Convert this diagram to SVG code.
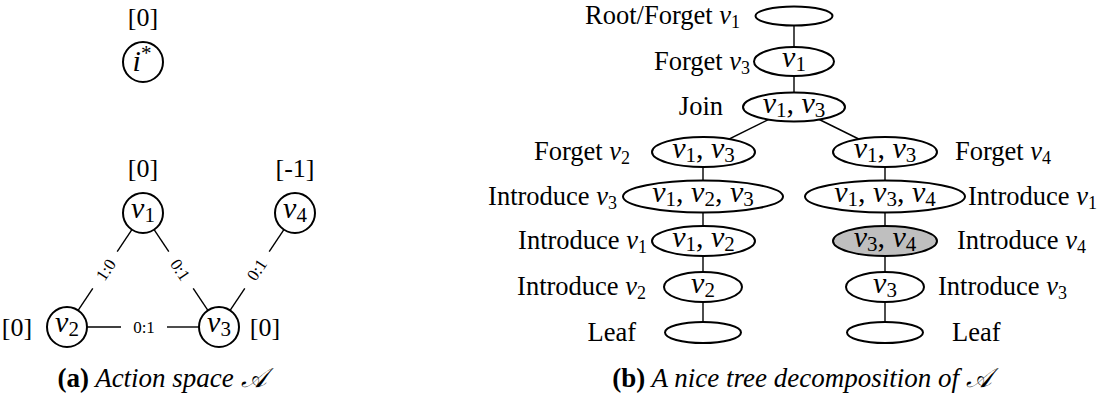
<svg xmlns="http://www.w3.org/2000/svg" width="1106" height="401" viewBox="0 0 1106 401">
<style>
text{font-family:"Liberation Serif","Times New Roman",serif;fill:#000}
.l{font-size:26.5px}
.b{font-size:26px}
.it{font-style:italic}
.s{font-size:18px}
.m{font-size:30px}
.ms{font-size:21px}
.e{font-size:17px}
.cap{font-size:27px}
.nd{fill:#fff;stroke:#000;stroke-width:2}
.gr{fill:#bfbfbf;stroke:#000;stroke-width:2}
.ln{stroke:#000;stroke-width:1.4;fill:none}
</style>
<rect width="1106" height="401" fill="#fff"/>
<g id="connectors">
<line class="ln" x1="131.9" y1="229.6" x2="117.2" y2="251.7"/>
<line class="ln" x1="92.8" y1="288.3" x2="78.1" y2="310.4"/>
<line class="ln" x1="154.1" y1="229.6" x2="168.8" y2="251.7"/>
<line class="ln" x1="193.2" y1="288.3" x2="207.9" y2="310.4"/>
<line class="ln" x1="230.1" y1="310.4" x2="244.8" y2="288.3"/>
<line class="ln" x1="269.2" y1="251.7" x2="283.9" y2="229.6"/>
<line class="ln" x1="87" y1="327" x2="121" y2="327"/>
<line class="ln" x1="167" y1="327" x2="199" y2="327"/>
<text class="e" transform="translate(106,270) rotate(-56.3)" text-anchor="middle" y="5.5">1:0</text>
<text class="e" transform="translate(180,270) rotate(56.3)" text-anchor="middle" y="5.5">0:1</text>
<text class="e" transform="translate(257,270) rotate(-56.3)" text-anchor="middle" y="5.5">0:1</text>
<text class="e" x="144" y="332.5" text-anchor="middle">0:1</text>
<line class="ln" x1="794" y1="16" x2="794" y2="107"/>
<line class="ln" x1="794" y1="107" x2="703" y2="152"/>
<line class="ln" x1="794" y1="107" x2="885" y2="152"/>
<line class="ln" x1="703" y1="152" x2="703" y2="332"/>
<line class="ln" x1="885" y1="152" x2="885" y2="332"/>
</g>
<g id="istar">
<text class="b" x="143" y="26" text-anchor="middle">[0]</text>
<circle class="nd" cx="143" cy="62" r="20"/>
<text class="m it" x="142" y="71" text-anchor="middle">i<tspan class="ms" dy="-11" font-style="normal">*</tspan></text>
</g>
<g id="v1">
<text class="b" x="143" y="177" text-anchor="middle">[0]</text>
<circle class="nd" cx="143" cy="213" r="20"/>
<text class="m" x="143" y="218" text-anchor="middle"><tspan class="it">v</tspan><tspan class="ms" dy="4">1</tspan></text>
</g>
<g id="v4">
<text class="b" x="295" y="177" text-anchor="middle">[-1]</text>
<circle class="nd" cx="295" cy="213" r="20"/>
<text class="m" x="295" y="218" text-anchor="middle"><tspan class="it">v</tspan><tspan class="ms" dy="4">4</tspan></text>
</g>
<g id="v2">
<text class="b" x="17" y="336" text-anchor="middle">[0]</text>
<circle class="nd" cx="67" cy="327" r="20"/>
<text class="m" x="67" y="332" text-anchor="middle"><tspan class="it">v</tspan><tspan class="ms" dy="4">2</tspan></text>
</g>
<g id="v3">
<text class="b" x="265" y="336" text-anchor="middle">[0]</text>
<circle class="nd" cx="219" cy="327" r="20"/>
<text class="m" x="219" y="332" text-anchor="middle"><tspan class="it">v</tspan><tspan class="ms" dy="4">3</tspan></text>
</g>
<text class="cap" x="162" y="387" text-anchor="middle"><tspan font-weight="bold">(a)</tspan><tspan class="it"> Action space 𝒜</tspan></text>
<g id="root">
<ellipse class="nd" cx="794" cy="16" rx="38.5" ry="9.5"/>
<text class="l" x="740" y="24" text-anchor="end">Root/Forget <tspan class="it">v</tspan><tspan class="s" dy="4">1</tspan></text>
</g>
<g id="forget3">
<ellipse class="nd" cx="794" cy="61.5" rx="40" ry="14.5"/>
<text class="m" x="794" y="67" text-anchor="middle"><tspan class="it">v</tspan><tspan class="ms" dy="4">1</tspan></text>
<text class="l" x="750" y="70" text-anchor="end">Forget <tspan class="it">v</tspan><tspan class="s" dy="4">3</tspan></text>
</g>
<g id="join">
<ellipse class="nd" cx="794" cy="107" rx="51" ry="14.5"/>
<text class="m" x="794" y="112.5" text-anchor="middle"><tspan class="it">v</tspan><tspan class="ms" dy="4">1</tspan><tspan dy="-4">, </tspan><tspan class="it">v</tspan><tspan class="ms" dy="4">3</tspan></text>
<text class="l" x="723" y="115" text-anchor="end">Join</text>
</g>
<g id="forget2">
<ellipse class="nd" cx="703.5" cy="152" rx="51.5" ry="15"/>
<text class="m" x="703.5" y="157.5" text-anchor="middle"><tspan class="it">v</tspan><tspan class="ms" dy="4">1</tspan><tspan dy="-4">, </tspan><tspan class="it">v</tspan><tspan class="ms" dy="4">3</tspan></text>
<text class="l" x="630" y="160" text-anchor="end">Forget <tspan class="it">v</tspan><tspan class="s" dy="4">2</tspan></text>
</g>
<g id="intro3">
<ellipse class="nd" cx="703" cy="196.5" rx="80" ry="16"/>
<text class="m" x="703" y="202" text-anchor="middle"><tspan class="it">v</tspan><tspan class="ms" dy="4">1</tspan><tspan dy="-4">, </tspan><tspan class="it">v</tspan><tspan class="ms" dy="4">2</tspan><tspan dy="-4">, </tspan><tspan class="it">v</tspan><tspan class="ms" dy="4">3</tspan></text>
<text class="l" x="617" y="205" text-anchor="end">Introduce <tspan class="it">v</tspan><tspan class="s" dy="4">3</tspan></text>
</g>
<g id="intro1l">
<ellipse class="nd" cx="703.5" cy="241" rx="51.5" ry="15"/>
<text class="m" x="703.5" y="246.5" text-anchor="middle"><tspan class="it">v</tspan><tspan class="ms" dy="4">1</tspan><tspan dy="-4">, </tspan><tspan class="it">v</tspan><tspan class="ms" dy="4">2</tspan></text>
<text class="l" x="647" y="249" text-anchor="end">Introduce <tspan class="it">v</tspan><tspan class="s" dy="4">1</tspan></text>
</g>
<g id="intro2">
<ellipse class="nd" cx="703" cy="287" rx="39" ry="15"/>
<text class="m" x="703" y="292.5" text-anchor="middle"><tspan class="it">v</tspan><tspan class="ms" dy="4">2</tspan></text>
<text class="l" x="646" y="295" text-anchor="end">Introduce <tspan class="it">v</tspan><tspan class="s" dy="4">2</tspan></text>
</g>
<g id="leafl">
<ellipse class="nd" cx="703" cy="332.5" rx="38" ry="10.5"/>
<text class="l" x="636" y="341" text-anchor="end">Leaf</text>
</g>
<g id="forget4">
<ellipse class="nd" cx="885" cy="152" rx="52" ry="15"/>
<text class="m" x="885" y="157.5" text-anchor="middle"><tspan class="it">v</tspan><tspan class="ms" dy="4">1</tspan><tspan dy="-4">, </tspan><tspan class="it">v</tspan><tspan class="ms" dy="4">3</tspan></text>
<text class="l" x="955" y="160">Forget <tspan class="it">v</tspan><tspan class="s" dy="4">4</tspan></text>
</g>
<g id="intro1r">
<ellipse class="nd" cx="885" cy="196.5" rx="80" ry="16"/>
<text class="m" x="885" y="202" text-anchor="middle"><tspan class="it">v</tspan><tspan class="ms" dy="4">1</tspan><tspan dy="-4">, </tspan><tspan class="it">v</tspan><tspan class="ms" dy="4">3</tspan><tspan dy="-4">, </tspan><tspan class="it">v</tspan><tspan class="ms" dy="4">4</tspan></text>
<text class="l" x="968" y="205">Introduce <tspan class="it">v</tspan><tspan class="s" dy="4">1</tspan></text>
</g>
<g id="intro4">
<ellipse class="gr" cx="885" cy="241" rx="52" ry="15"/>
<text class="m" x="885" y="246.5" text-anchor="middle"><tspan class="it">v</tspan><tspan class="ms" dy="4">3</tspan><tspan dy="-4">, </tspan><tspan class="it">v</tspan><tspan class="ms" dy="4">4</tspan></text>
<text class="l" x="957" y="249">Introduce <tspan class="it">v</tspan><tspan class="s" dy="4">4</tspan></text>
</g>
<g id="intro3r">
<ellipse class="nd" cx="885" cy="287" rx="39" ry="15"/>
<text class="m" x="885" y="292.5" text-anchor="middle"><tspan class="it">v</tspan><tspan class="ms" dy="4">3</tspan></text>
<text class="l" x="938" y="295">Introduce <tspan class="it">v</tspan><tspan class="s" dy="4">3</tspan></text>
</g>
<g id="leafr">
<ellipse class="nd" cx="885" cy="332.5" rx="38" ry="10.5"/>
<text class="l" x="952" y="341">Leaf</text>
</g>
<text class="cap" x="802" y="387" text-anchor="middle"><tspan font-weight="bold">(b)</tspan><tspan class="it"> A nice tree decomposition of 𝒜</tspan></text>
</svg>
